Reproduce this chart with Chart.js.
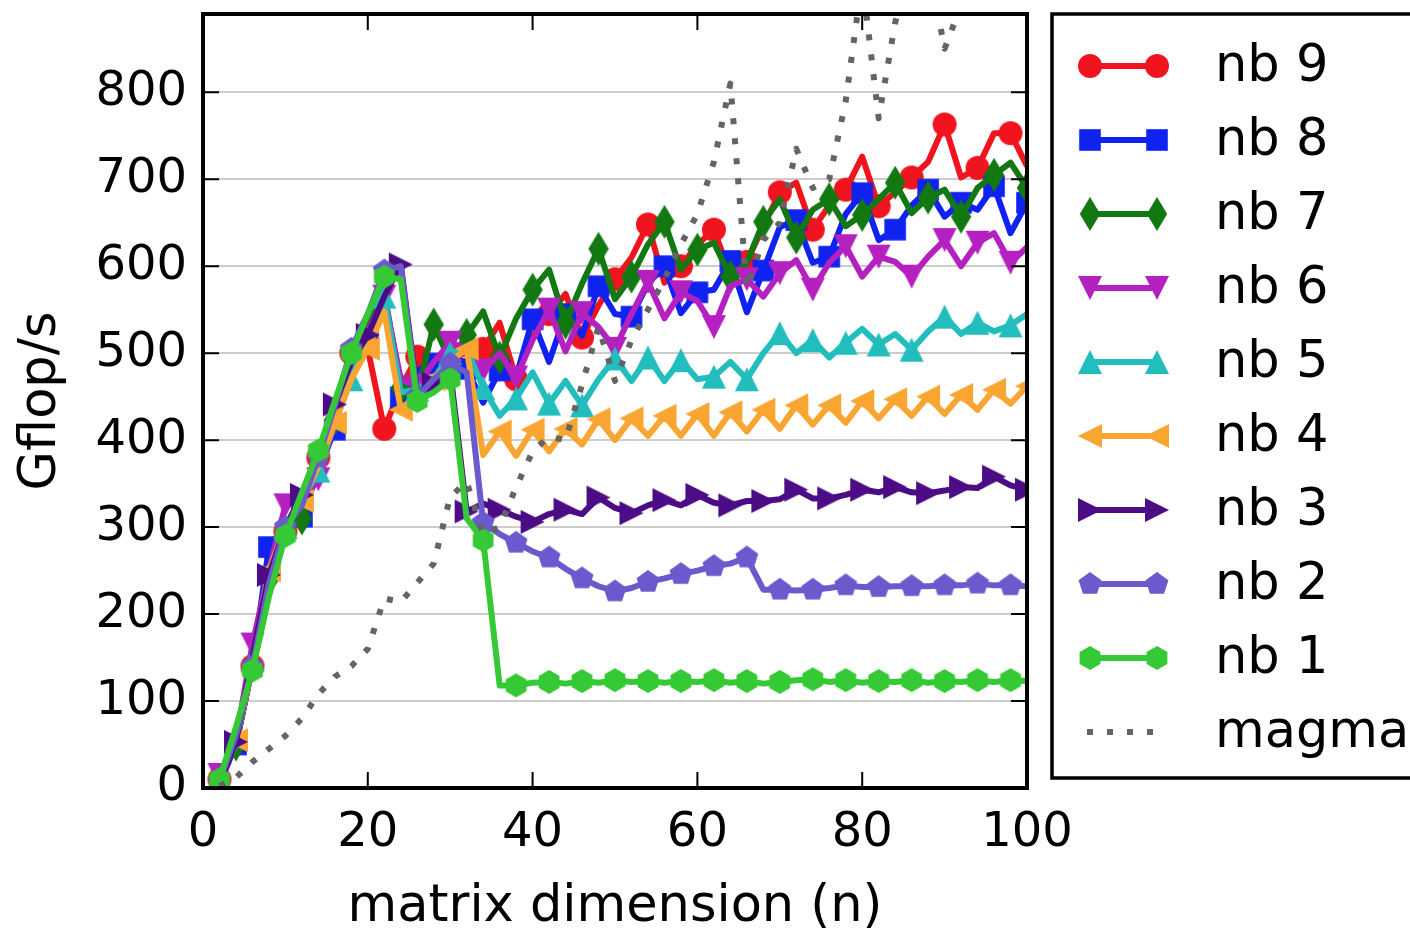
<!DOCTYPE html>
<html>
<head>
<meta charset="utf-8">
<script src="https://cdn.jsdelivr.net/npm/chart.js@4.4.1/dist/chart.umd.min.js"></script>
<style>
  html, body { margin: 0; padding: 0; background: #fff; }
  canvas { display: block; }
</style>
</head>
<body>
<canvas id="grafico" width="1410" height="930"></canvas>
<script>
// eixo x: dimensao da matriz (n)
const dimensoes = [2, 4, 6, 8, 10, 12, 14, 16, 18, 20, 22, 24, 26, 28, 30, 32, 34, 36, 38, 40,
  42, 44, 46, 48, 50, 52, 54, 56, 58, 60, 62, 64, 66, 68, 70, 72, 74, 76, 78, 80,
  82, 84, 86, 88, 90, 92, 94, 96, 98, 100];

const ticksX = [0, 20, 40, 60, 80, 100];
const ticksY = [0, 100, 200, 300, 400, 500, 600, 700, 800];

// Gflop/s por serie
const nb9 = [10, 50, 140, 240, 295, 330, 380, 440, 500, 505, 413, 460, 496, 490, 495, 500, 505, 535, 470, 520,
  545, 568, 518, 555, 585, 610, 648, 581, 600, 625, 642, 590, 605, 646, 685, 696, 642, 670, 688, 726,
  669, 685, 702, 720, 763, 702, 713, 753, 753, 715];
const nb8 = [5, 50, 140, 277, 300, 312, 365, 412, 495, 520, 560, 449, 480, 488, 495, 482, 443, 480, 473, 539,
  490, 545, 520, 577, 545, 542, 580, 600, 546, 570, 573, 606, 547, 595, 645, 653, 604, 611, 660, 684,
  630, 642, 670, 688, 657, 673, 665, 692, 638, 673];
const nb7 = [8, 50, 140, 240, 300, 310, 370, 425, 490, 530, 570, 460, 452, 533, 490, 521, 548, 495, 540, 573,
  596, 535, 580, 620, 562, 588, 625, 651, 596, 619, 627, 588, 604, 651, 677, 633, 665, 677, 646, 659,
  677, 696, 661, 679, 688, 657, 690, 705, 719, 690];
const nb6 = [15, 55, 165, 250, 325, 330, 355, 420, 490, 525, 565, 470, 462, 490, 512, 505, 480, 500, 472, 515,
  550, 502, 546, 530, 505, 545, 582, 540, 570, 560, 530, 577, 585, 565, 592, 607, 573, 604, 623, 588,
  611, 605, 588, 611, 630, 600, 627, 638, 604, 622];
const nb5 = [10, 50, 147, 240, 300, 330, 365, 420, 470, 520, 565, 455, 458, 470, 500, 505, 460, 428, 448, 478,
  442, 468, 440, 470, 494, 468, 495, 468, 492, 470, 473, 490, 470, 500, 523, 500, 515, 495, 512, 528,
  510, 522, 504, 525, 542, 522, 535, 525, 532, 545];
const nb4 = [10, 55, 140, 250, 300, 330, 370, 420, 470, 505, 548, 435, 450, 470, 490, 505, 383, 410, 382, 412,
  387, 413, 395, 424, 400, 425, 405, 428, 405, 430, 405, 432, 410, 435, 413, 440, 418, 440, 420, 445,
  425, 447, 428, 450, 430, 452, 435, 458, 442, 462];
const nb3 = [5, 53, 150, 245, 300, 337, 385, 441, 490, 521, 565, 602, 455, 465, 480, 318, 327, 320, 312, 306,
  315, 320, 315, 334, 322, 316, 325, 331, 325, 337, 328, 325, 330, 330, 332, 343, 333, 333, 337, 343,
  340, 346, 340, 339, 342, 346, 345, 358, 348, 343];
const nb2 = [8, 60, 140, 235, 300, 325, 380, 440, 505, 545, 595, 600, 450, 470, 488, 478, 305, 292, 282, 272,
  265, 252, 241, 232, 226, 230, 237, 241, 246, 250, 255, 258, 265, 228, 228, 227, 228, 230, 233, 231,
  231, 232, 232, 232, 233, 233, 235, 233, 233, 232];
const nb1 = [10, 70, 135, 220, 290, 340, 388, 445, 500, 545, 588, 585, 445, 455, 470, 310, 285, 118, 118, 121,
  122, 120, 123, 121, 124, 122, 123, 121, 123, 122, 124, 121, 123, 120, 122, 124, 125, 122, 124, 121,
  123, 122, 124, 121, 123, 122, 124, 122, 124, 123];
const magma = [2, 12, 30, 45, 60, 80, 108, 128, 140, 160, 218, 214, 236, 258, 335, 352, 292, 300, 346, 387,
  404, 400, 464, 530, 468, 515, 550, 585, 625, 660, 720, 810, 575, 630, 650, 735, 690, 700, 790, 930,
  770, 880, 960, 950, 850, 900, 960, 990, 1000, 1010];

const fonte = 'DejaVu Sans';
const tamFonte = 48;
const tamTitulo = 51;
const tamMarcador = 24;

// desenha um marcador estilo matplotlib num canvas pequeno
function criaMarcador(forma, cor) {
  const c = document.createElement('canvas');
  c.width = 40;
  c.height = 40;
  const m = 20;
  const r = tamMarcador / 2;
  const g = c.getContext('2d');
  g.fillStyle = cor;
  g.beginPath();
  if (forma === 'circulo') {
    g.arc(m, m, r, 0, 2 * Math.PI);
  } else if (forma === 'quadrado') {
    g.rect(m - r * 0.9, m - r * 0.9, r * 1.8, r * 1.8);
  } else if (forma === 'losango') {
    g.moveTo(m, m - r * 1.41);
    g.lineTo(m + r * 0.85, m);
    g.lineTo(m, m + r * 1.41);
    g.lineTo(m - r * 0.85, m);
  } else if (forma === 'baixo') {
    g.moveTo(m, m + r); g.lineTo(m - r, m - r); g.lineTo(m + r, m - r);
  } else if (forma === 'cima') {
    g.moveTo(m, m - r); g.lineTo(m - r, m + r); g.lineTo(m + r, m + r);
  } else if (forma === 'esquerda') {
    g.moveTo(m - r, m); g.lineTo(m + r, m - r); g.lineTo(m + r, m + r);
  } else if (forma === 'direita') {
    g.moveTo(m + r, m); g.lineTo(m - r, m - r); g.lineTo(m - r, m + r);
  } else {
    // pentagono ou hexagono com vertice em cima
    const lados = forma === 'pentagono' ? 5 : 6;
    for (let i = 0; i < lados; i++) {
      const a = -Math.PI / 2 + i * 2 * Math.PI / lados;
      const px = m + r * Math.cos(a);
      const py = m + r * Math.sin(a);
      if (i === 0) g.moveTo(px, py); else g.lineTo(px, py);
    }
  }
  g.closePath();
  g.fill();
  return c;
}

const series = [
  { rotulo: 'nb 9', valores: nb9, cor: '#f0141e', forma: 'circulo', fase: 0, ordem: 9 },
  { rotulo: 'nb 8', valores: nb8, cor: '#1022f0', forma: 'quadrado', fase: 1, ordem: 8 },
  { rotulo: 'nb 7', valores: nb7, cor: '#127812', forma: 'losango', fase: 1, ordem: 7 },
  { rotulo: 'nb 6', valores: nb6, cor: '#b520c0', forma: 'baixo', fase: 0, ordem: 6 },
  { rotulo: 'nb 5', valores: nb5, cor: '#22bdbd', forma: 'cima', fase: 0, ordem: 5 },
  { rotulo: 'nb 4', valores: nb4, cor: '#f9a532', forma: 'esquerda', fase: 1, ordem: 4 },
  { rotulo: 'nb 3', valores: nb3, cor: '#4b0c85', forma: 'direita', fase: 1, ordem: 3 },
  { rotulo: 'nb 2', valores: nb2, cor: '#6a5acd', forma: 'pentagono', fase: 0, ordem: 2 },
  { rotulo: 'nb 1', valores: nb1, cor: '#35c935', forma: 'hexagono', fase: 0, ordem: 1 }
];

series.forEach(s => { s.marcador = criaMarcador(s.forma, s.cor); });

const datasets = series.map(s => ({
  label: s.rotulo,
  data: dimensoes.map((n, i) => ({ x: n, y: s.valores[i] })),
  borderColor: s.cor,
  backgroundColor: s.cor,
  borderWidth: 6,
  borderJoinStyle: 'round',
  tension: 0,
  clip: 0,
  order: s.ordem,
  pointStyle: s.marcador,
  pointRadius: ctx => (ctx.dataIndex % 2 === s.fase ? 8 : 0),
  pointHoverRadius: ctx => (ctx.dataIndex % 2 === s.fase ? 8 : 0)
}));

// linha pontilhada do magma
datasets.push({
  label: 'magma',
  data: dimensoes.map((n, i) => ({ x: n, y: magma[i] })),
  borderColor: '#646464',
  borderWidth: 6,
  borderDash: [6, 14],
  borderJoinStyle: 'round',
  borderCapStyle: 'butt',
  tension: 0,
  clip: 0,
  order: 0,
  pointRadius: 0
});

// moldura, ticks para dentro e legenda desenhados a mao
const molduraPlugin = {
  id: 'moldura',
  afterDatasetsDraw(chart) {
    const { ctx, chartArea: a, scales: { x, y } } = chart;
    ctx.save();
    ctx.strokeStyle = '#000';
    ctx.lineWidth = 2;
    ctx.beginPath();
    ticksY.forEach(v => {
      const py = y.getPixelForValue(v);
      ctx.moveTo(a.left, py); ctx.lineTo(a.left + 16, py);
      ctx.moveTo(a.right, py); ctx.lineTo(a.right - 16, py);
    });
    ticksX.forEach(v => {
      const px = x.getPixelForValue(v);
      ctx.moveTo(px, a.bottom); ctx.lineTo(px, a.bottom - 16);
      ctx.moveTo(px, a.top); ctx.lineTo(px, a.top + 16);
    });
    ctx.stroke();
    ctx.lineWidth = 4;
    ctx.strokeRect(a.left, a.top, a.right - a.left, a.bottom - a.top);
    ctx.restore();
  },
  afterDraw(chart) {
    const ctx = chart.ctx;
    ctx.save();
    ctx.fillStyle = '#fff';
    ctx.fillRect(1052, 14, 420, 764);
    ctx.strokeStyle = '#000';
    ctx.lineWidth = 3.5;
    ctx.strokeRect(1052, 14, 420, 764);
    ctx.font = tamTitulo + 'px "' + fonte + '"';
    ctx.textBaseline = 'middle';
    ctx.textAlign = 'left';
    series.forEach((s, i) => {
      const cy = 66 + i * 74;
      ctx.strokeStyle = s.cor;
      ctx.lineWidth = 6;
      ctx.beginPath();
      ctx.moveTo(1090, cy);
      ctx.lineTo(1157, cy);
      ctx.stroke();
      ctx.drawImage(s.marcador, 1090 - 20, cy - 20);
      ctx.drawImage(s.marcador, 1157 - 20, cy - 20);
      ctx.fillStyle = '#000';
      ctx.fillText(s.rotulo, 1215, cy + 2);
    });
    const cm = 66 + 9 * 74;
    ctx.strokeStyle = '#646464';
    ctx.lineWidth = 6;
    ctx.setLineDash([6, 14]);
    ctx.beginPath();
    ctx.moveTo(1087, cm);
    ctx.lineTo(1160, cm);
    ctx.stroke();
    ctx.setLineDash([]);
    ctx.fillStyle = '#000';
    ctx.fillText('magma', 1215, cm + 2);
    ctx.restore();
  }
};

let grafico = new Chart(document.getElementById('grafico').getContext('2d'), {
  type: 'line',
  data: { datasets: datasets },
  options: {
    responsive: false,
    animation: false,
    events: [],
    layout: { padding: { top: 14, right: 383, left: 0, bottom: 0 } },
    plugins: { legend: { display: false }, tooltip: { enabled: false } },
    scales: {
      x: {
        type: 'linear',
        min: 0,
        max: 100,
        afterBuildTicks: scale => { scale.ticks = ticksX.map(v => ({ value: v })); },
        afterFit: scale => {
          scale.height = 142;
          scale.paddingLeft = 0;
          scale.paddingRight = 0;
        },
        grid: { display: false, drawTicks: false },
        border: { display: false },
        ticks: {
          color: '#000',
          padding: 17,
          maxRotation: 0,
          autoSkip: false,
          font: { family: fonte, size: tamFonte }
        },
        title: {
          display: true,
          text: 'matrix dimension (n)',
          color: '#000',
          padding: { top: 0, bottom: -8 },
          font: { family: fonte, size: tamTitulo }
        }
      },
      y: {
        type: 'linear',
        min: 0,
        max: 890,
        afterBuildTicks: scale => { scale.ticks = ticksY.map(v => ({ value: v })); },
        afterFit: scale => {
          scale.width = 203;
          scale.paddingTop = 0;
          scale.paddingBottom = 0;
        },
        grid: { color: '#cccccc', lineWidth: 2, drawTicks: false },
        border: { display: false },
        ticks: {
          color: '#000',
          padding: 16,
          autoSkip: false,
          font: { family: fonte, size: tamFonte }
        },
        title: {
          display: true,
          text: 'Gflop/s',
          color: '#000',
          padding: { top: 11, bottom: 0 },
          font: { family: fonte, size: tamTitulo }
        }
      }
    }
  },
  plugins: [molduraPlugin]
});
</script>
</body>
</html>
